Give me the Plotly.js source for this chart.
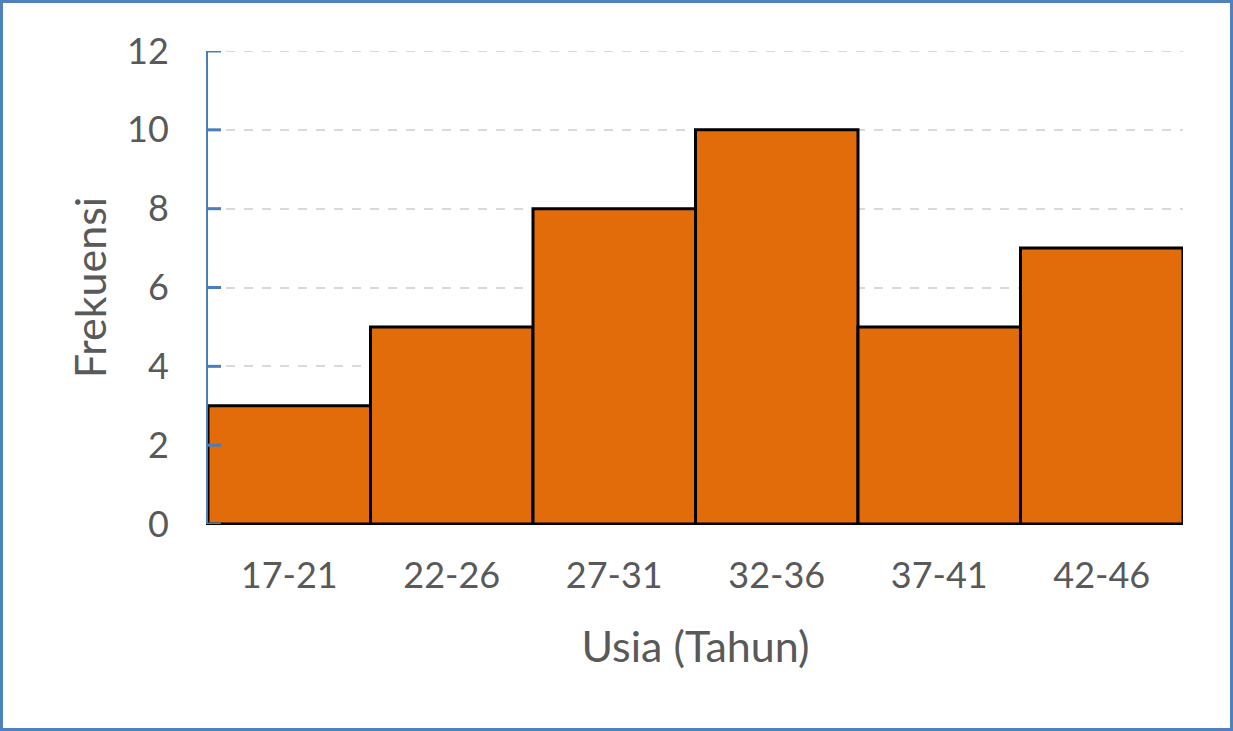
<!DOCTYPE html>
<html>
<head>
<meta charset="utf-8">
<script src="https://cdn.plot.ly/plotly-3.0.1.min.js"></script>
<style>
html,body{margin:0;padding:0;background:#fff;}
#chart{position:absolute;left:0;top:0;width:1233px;height:731px;}
#frame{position:absolute;left:0;top:0;width:1233px;height:731px;box-sizing:border-box;border:3px solid #4F81BD;pointer-events:none;}
</style>
</head>
<body>
<div id="chart"></div>
<div id="frame"></div>
<script>
const categories = ["17-21","22-26","27-31","32-36","37-41","42-46"];
const frekuensi = [3,5,8,10,5,7];
const yTicks = [0,2,4,6,8,10,12];

const fontFam = "Lato, 'Open Sans', 'Liberation Sans', sans-serif";
const plotW = 1233 - 208 - 50;

const shapes = [];
// top gridline (Plotly omits it at the range edge)
shapes.push({type:'line', xref:'paper', yref:'y', x0:0, x1:1, y0:12, y1:12,
  line:{color:'#D9D9D9', width:2, dash:'dash'}, layer:'below'});
// inside tick marks on the y axis
yTicks.forEach(v => shapes.push({type:'line', xref:'paper', yref:'y',
  x0:0, x1:13/plotW, y0:v, y1:v, line:{color:'#4A7EBB', width:3}, layer:'above'}));

Plotly.newPlot('chart', [{
  type:'bar',
  x:categories,
  y:frekuensi,
  marker:{color:'#E36C0A', line:{color:'#000000', width:3}},
  hoverinfo:'x+y'
}], {
  width:1233, height:731,
  margin:{l:208, r:50, t:51, b:207},
  paper_bgcolor:'#ffffff', plot_bgcolor:'#ffffff',
  bargap:0,
  showlegend:false,
  font:{family:fontFam, color:'#595959'},
  shapes:shapes,
  xaxis:{
    type:'category',
    showline:true, linecolor:'#000000', linewidth:1,
    ticks:'', showgrid:false,
    tickfont:{size:36, color:'#595959'},
    ticklabelstandoff:20,
    title:{text:'Usia (Tahun)', font:{size:43, color:'#595959'}, standoff:36}
  },
  yaxis:{
    range:[0,12], tickvals:yTicks, ticktext:yTicks.map(String),
    showline:true, linecolor:'#4A7EBB', linewidth:2,
    ticks:'', 
    showgrid:true, gridcolor:'#D9D9D9', gridwidth:2, griddash:'dash',
    zeroline:false,
    tickfont:{size:36, color:'#595959'},
    ticklabelstandoff:30,
    title:{text:'Frekuensi', font:{size:43, color:'#595959'}, standoff:7}
  }
}, {displayModeBar:false, staticPlot:true});
</script>
</body>
</html>
